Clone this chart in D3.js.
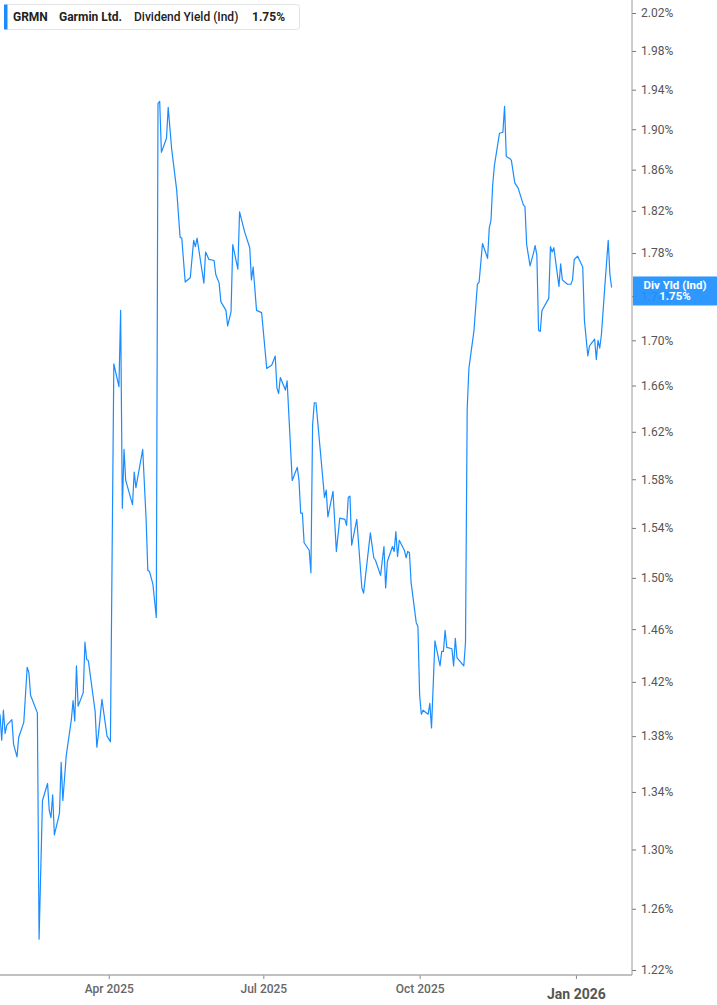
<!DOCTYPE html>
<html><head><meta charset="utf-8">
<script src="https://cdn.jsdelivr.net/npm/d3@7"></script>
<style>
body{margin:0;background:#fff;}
svg{display:block;font-family:Roboto,"Noto Sans",sans-serif;}
</style>
</head><body>
<svg id="c" width="717" height="1005"></svg>
<script>
const startDate = "2025-01-27";
const dayOffsets = [0,1,2,3,4,7,8,10,11,14,16,17,18,22,23,25,28,29,30,31,32,35,36,37,39,42,43,44,45,46,49,50,51,52,56,57,58,60,63,65,
67,70,71,72,73,74,78,79,80,84,86,87,88,90,92,93,94,95,98,99,101,104,106,107,109,112,114,115,116,120,121,123,126,127,129,130,133,134,136,137,
140,141,144,147,148,149,151,154,157,160,162,163,164,165,168,169,172,175,176,177,178,179,182,183,184,185,186,191,192,193,196,198,200,203,204,205,206,207,
210,213,214,218,220,221,224,226,227,228,231,232,233,234,235,238,239,240,241,242,245,246,247,248,249,252,253,254,256,259,260,261,262,263,266,267,268,269,
273,274,275,276,279,281,282,284,287,288,289,290,291,294,296,297,298,300,301,303,305,308,309,310,312,314,315,316,317,318,319,323,324,325,326,329,330,331,
334,336,337,338,340,343,344,346,347,350,351,352,353,354,356,358,359,360];
const yieldValues = [1.396,1.377,1.399,1.382,1.388,1.392,1.374,1.365,1.379,1.390,1.431,1.427,1.410,1.397,1.240,1.334,1.346,1.327,1.322,1.338,1.310,1.325,1.361,1.334,1.366,1.392,1.406,1.391,1.432,1.402,1.412,1.450,1.437,1.436,1.398,1.372,1.382,1.407,1.380,1.376,
1.679,1.659,1.727,1.556,1.605,1.579,1.559,1.586,1.573,1.605,1.547,1.506,1.505,1.495,1.469,1.926,1.928,1.877,1.891,1.922,1.881,1.840,1.795,1.794,1.753,1.757,1.792,1.786,1.794,1.752,1.781,1.774,1.773,1.760,1.752,1.735,1.727,1.713,1.726,1.788,
1.765,1.819,1.800,1.785,1.755,1.767,1.727,1.725,1.675,1.678,1.686,1.658,1.653,1.667,1.656,1.664,1.579,1.590,1.579,1.552,1.552,1.528,1.522,1.504,1.626,1.645,1.645,1.565,1.571,1.549,1.570,1.521,1.548,1.547,1.542,1.565,1.566,1.526,
1.547,1.492,1.488,1.536,1.516,1.514,1.502,1.525,1.492,1.513,1.525,1.521,1.537,1.517,1.530,1.522,1.516,1.521,1.520,1.496,1.465,1.462,1.410,1.396,1.399,1.396,1.404,1.386,1.451,1.432,1.443,1.443,1.459,1.446,1.445,1.432,1.453,1.438,
1.432,1.450,1.640,1.675,1.709,1.751,1.753,1.789,1.775,1.804,1.811,1.845,1.864,1.896,1.897,1.923,1.873,1.871,1.869,1.847,1.842,1.826,1.824,1.788,1.768,1.780,1.787,1.778,1.709,1.708,1.727,1.738,1.786,1.781,1.785,1.749,1.770,1.755,
1.751,1.751,1.755,1.774,1.777,1.767,1.718,1.686,1.695,1.701,1.683,1.700,1.693,1.705,1.749,1.792,1.760,1.748];
const yTicks = [1.22,1.26,1.30,1.34,1.38,1.42,1.46,1.50,1.54,1.58,1.62,1.66,1.70,1.74,1.78,1.82,1.86,1.90,1.94,1.98,2.02];
const xTickDates = ["2025-04-01","2025-07-01","2025-10-01","2026-01-01"];
const xTickLabels = ["Apr 2025","Jul 2025","Oct 2025","Jan 2026"];
const ticker = "GRMN";
const company = "Garmin Ltd.";
const metric = "Dividend Yield (Ind)";
const badgeLabel = "Div Yld (Ind)";
const domainEnd = "2026-02-03";

const parse = d3.utcParse("%Y-%m-%d");
const start = parse(startDate);
const data = dayOffsets.map((d, i) => ({date: d3.utcDay.offset(start, d), v: yieldValues[i]}));
const last = data[data.length - 1];

const axisX = 632, axisY = 975;
const svg = d3.select("#c");
const blue = "#1a8cff";

const x = d3.scaleUtc().domain([start, parse(domainEnd)]).range([0, axisX]);
const y = d3.scaleLog().domain([1.22, 2.02]).range([970, 13]);

svg.append("defs").append("clipPath").attr("id", "clip")
  .append("rect").attr("x", 0).attr("y", 0).attr("width", axisX).attr("height", axisY);

// line
svg.append("path").datum(data)
  .attr("clip-path", "url(#clip)")
  .attr("fill", "none").attr("stroke", blue).attr("stroke-width", 1.2)
  .attr("stroke-linejoin", "round")
  .attr("d", d3.line().x(d => x(d.date)).y(d => y(d.v)));

// y axis (right)
const gy = svg.append("g").attr("transform", `translate(${axisX},0)`)
  .call(d3.axisRight(y).tickValues(yTicks).tickSize(4).tickPadding(5)
    .tickFormat(d => d.toFixed(2) + "%"));
gy.select(".domain").remove();
gy.selectAll(".tick line").attr("stroke", "#777");
gy.selectAll(".tick text").attr("fill", "#555").style("font-size", "12px")
  .style("font-family", "Roboto, sans-serif");
svg.append("line").attr("x1", axisX).attr("x2", axisX).attr("y1", 0).attr("y2", axisY)
  .attr("stroke", "#9a9a9a").attr("stroke-width", 1);

// x axis
const gx = svg.append("g").attr("transform", `translate(0,${axisY})`)
  .call(d3.axisBottom(x).tickValues(xTickDates.map(parse)).tickSize(4).tickPadding(5)
    .tickFormat((d, i) => xTickLabels[i]));
gx.select(".domain").remove();
gx.selectAll(".tick line").attr("stroke", "#888");
gx.selectAll(".tick text").attr("fill", "#666").style("font-size", "12px")
  .style("font-weight", "500").style("font-family", "Roboto, sans-serif");
gx.selectAll(".tick text").filter((d, i) => i === 3)
  .style("font-size", "14px").style("font-weight", "700").attr("fill", "#555").attr("dy", "1.05em");
svg.append("line").attr("x1", 0).attr("x2", axisX).attr("y1", axisY).attr("y2", axisY)
  .attr("stroke", "#ababab").attr("stroke-width", 1.6);

// badge
const by = y(last.v);
const badge = svg.append("g");
badge.append("rect").attr("x", axisX + 1).attr("y", by - 11).attr("width", 717 - axisX - 1).attr("height", 29)
  .attr("fill", "#1e90ff").attr("fill-opacity", 0.93);
const bt = badge.append("text").attr("text-anchor", "middle").attr("fill", "#fff")
  .style("font-size", "11.5px").style("font-weight", "700");
bt.append("tspan").attr("x", 675).attr("y", by + 1.5).text(badgeLabel);
bt.append("tspan").attr("x", 675).attr("y", by + 13).text(last.v.toFixed(2) + "%");

// legend
const lg = svg.append("g");
lg.append("rect").attr("x", 4.5).attr("y", 4.5).attr("width", 295).attr("height", 25).attr("rx", 3)
  .attr("fill", "#fff").attr("stroke", "#e3e3e3");
lg.append("rect").attr("x", 4).attr("y", 4.5).attr("width", 3.5).attr("height", 25).attr("fill", blue);
const ly = 17;
const items = [
  {t: ticker, x: 13, w: 700},
  {t: company, x: 59, w: 700},
  {t: metric, x: 134, w: 500},
  {t: last.v.toFixed(2) + "%", x: 252, w: 700}
];
lg.selectAll("text.li").data(items).enter().append("text")
  .attr("x", d => d.x).attr("y", ly).attr("dominant-baseline", "central")
  .attr("fill", "#222").style("font-size", "12px").style("font-weight", d => d.w)
  .text(d => d.t);
</script>
</body></html>
